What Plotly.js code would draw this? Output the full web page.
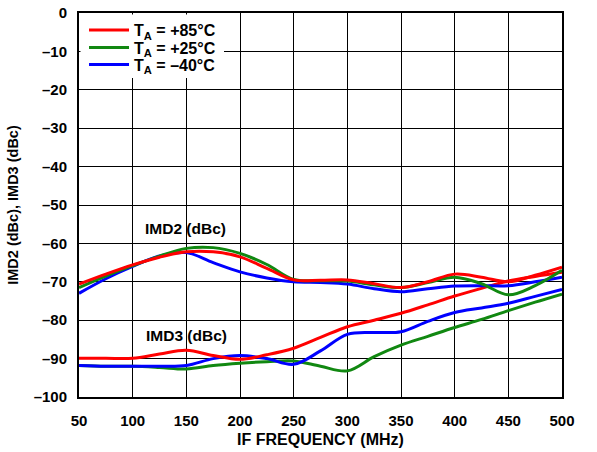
<!DOCTYPE html>
<html>
<head>
<meta charset="utf-8">
<script src="https://cdn.plot.ly/plotly-3.0.1.min.js"></script>
<style>html,body{margin:0;padding:0;background:#fff;}#chart{width:597px;height:452px;}</style>
</head>
<body>
<div id="chart"></div>
<script>
var freq = [50,75,100,125,150,175,200,225,250,275,300,325,350,375,400,425,450,475,500];

var imd2_85 = [-70.6,-68,-65.6,-63.6,-62.2,-62.2,-63.5,-66.5,-69.5,-69.6,-69.5,-70.5,-71.5,-70,-68,-68.8,-70,-68.3,-66.2];
var imd2_25 = [-71.5,-68.5,-65.8,-63.3,-61.3,-61.1,-62.6,-65.5,-69.4,-69.7,-69.8,-70.8,-71.5,-70.2,-68.8,-70.5,-73.4,-71,-67];
var imd2_m40 = [-73,-69.2,-66,-63.3,-62.4,-65,-67.4,-69,-70,-70.2,-70.6,-71.8,-72.6,-71.8,-71.1,-71,-71,-70,-68.8];

var imd3_85 = [-89.9,-89.9,-89.9,-88.8,-87.8,-89.2,-90.2,-89,-87.3,-84.5,-81.7,-80,-78.2,-76,-73.7,-71.7,-69.8,-68.6,-67.5];
var imd3_25 = [-91.8,-92,-92,-92.3,-92.7,-91.8,-91.2,-90.8,-90.6,-92,-93.2,-89.5,-86.5,-84.2,-81.9,-79.8,-77.5,-75.3,-73.2];
var imd3_m40 = [-91.8,-92,-92,-92,-91.8,-90,-89.2,-90,-91.5,-88,-83.7,-83.2,-83,-80.3,-78,-76.8,-75.6,-73.8,-72];

var legendNames = ["T<sub>A</sub> = +85°C","T<sub>A</sub> = +25°C","T<sub>A</sub> = –40°C"];
var colors = ["#ff0000","#118811","#0000ff"];
var legendIds = ["legend","legend2","legend3"];

var yTickVals = [0,-10,-20,-30,-40,-50,-60,-70,-80,-90,-100];
var yTickText = ["0","–10","–20","–30","–40","–50","–60","–70","–80","–90","–100"];
var xTickVals = [50,100,150,200,250,300,350,400,450,500];

var FF = 'Liberation Sans, Arial, sans-serif';

function tr(y, i, show) {
  return {x: freq, y: y, type: 'scatter', mode: 'lines', name: legendNames[i],
    showlegend: show, legend: legendIds[i], legendgroup: 'g'+i,
    line: {color: colors[i], width: 3, shape: 'spline', smoothing: 1}};
}

var data = [
  tr(imd3_25, 1, false), tr(imd3_m40, 2, false), tr(imd3_85, 0, false),
  tr(imd2_m40, 2, true), tr(imd2_25, 1, true), tr(imd2_85, 0, true)
];

function leg(yc) {
  return {x: 0.0104, y: yc, xanchor: 'left', yanchor: 'middle', bgcolor: 'rgba(0,0,0,0)', borderwidth: 0,
    font: {family: FF, size: 16, color: '#000', weight: 'bold'}, itemwidth: 40};
}

var layout = {
  width: 597, height: 452,
  margin: {l: 79, r: 35, t: 13, b: 55},
  paper_bgcolor: '#fff', plot_bgcolor: '#fff',
  font: {family: FF, size: 15, color: '#000'},
  showlegend: true,
  legend: leg(0.9557),
  legend2: leg(0.9102),
  legend3: leg(0.8659),
  shapes: [
    {type: 'rect', xref: 'paper', yref: 'paper', x0: 0.0031, x1: 0.3002, y0: 0.8307, y1: 0.9961,
      fillcolor: '#fff', line: {width: 0}, layer: 'above'}
  ],
  xaxis: {range: [50, 500], tickvals: xTickVals, ticks: 'outside', ticklen: 9, tickcolor: 'rgba(0,0,0,0)',
    showgrid: true, gridcolor: '#000', gridwidth: 1,
    showline: true, linecolor: '#000', linewidth: 2, mirror: true, zeroline: false,
    tickfont: {family: FF, size: 15, weight: 'bold'},
    title: {text: 'IF FREQUENCY (MHz)', standoff: 6, font: {family: FF, size: 16, weight: 'bold'}}},
  yaxis: {range: [-100, 0], tickvals: yTickVals, ticktext: yTickText, ticks: 'outside', ticklen: 7, tickcolor: 'rgba(0,0,0,0)',
    showgrid: true, gridcolor: '#000', gridwidth: 1,
    showline: true, linecolor: '#000', linewidth: 2, mirror: true, zeroline: false,
    tickfont: {family: FF, size: 15, weight: 'bold'},
    title: {text: 'IMD2 (dBc), IMD3 (dBc)', standoff: 12, font: {family: FF, size: 14.5, weight: 'bold'}}},
  annotations: [
    {x: 149, y: -56, xref: 'x', yref: 'y', text: 'IMD2 (dBc)', showarrow: false,
      font: {family: FF, size: 15.5, weight: 'bold'}},
    {x: 150, y: -83.9, xref: 'x', yref: 'y', text: 'IMD3 (dBc)', showarrow: false,
      font: {family: FF, size: 15.5, weight: 'bold'}}
  ]
};

Plotly.newPlot('chart', data, layout, {displayModeBar: false, staticPlot: true});
</script>
</body>
</html>
